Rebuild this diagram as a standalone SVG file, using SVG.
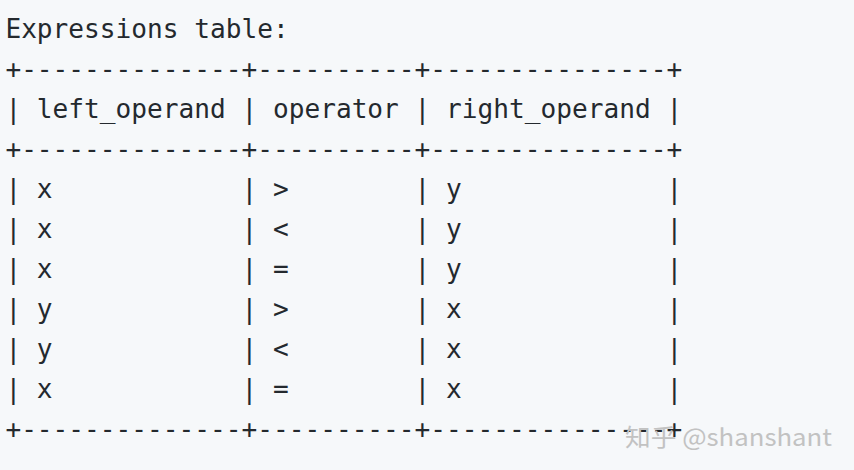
<svg xmlns="http://www.w3.org/2000/svg" width="854" height="470" viewBox="0 0 854 470">
<style>
.t{font-family:"DejaVu Sans Mono",monospace;font-size:26.15px;fill:#24292e;white-space:pre}
.w{font-family:"Noto Sans CJK SC","Liberation Sans",sans-serif;font-size:24px;fill:#c2c2c2}
</style>
<rect width="854" height="470" fill="#f6f8fa"/>
<g id="table">
<text class="t" x="5.4" y="38" xml:space="preserve">Expressions table:</text>
<text class="t" x="5.4" y="78" xml:space="preserve">+--------------+----------+---------------+</text>
<text class="t" x="5.4" y="118" xml:space="preserve">| left_operand | operator | right_operand |</text>
<text class="t" x="5.4" y="158" xml:space="preserve">+--------------+----------+---------------+</text>
<text class="t" x="5.4" y="198" xml:space="preserve">| x            | &gt;        | y             |</text>
<text class="t" x="5.4" y="238" xml:space="preserve">| x            | &lt;        | y             |</text>
<text class="t" x="5.4" y="278" xml:space="preserve">| x            | =        | y             |</text>
<text class="t" x="5.4" y="318" xml:space="preserve">| y            | &gt;        | x             |</text>
<text class="t" x="5.4" y="358" xml:space="preserve">| y            | &lt;        | x             |</text>
<text class="t" x="5.4" y="398" xml:space="preserve">| x            | =        | x             |</text>
<text class="t" x="5.4" y="438" xml:space="preserve">+--------------+----------+---------------+</text>
</g>
<g id="watermark">
<text class="w" x="625" y="446" textLength="207" lengthAdjust="spacingAndGlyphs">知乎 @shanshant</text>
</g>
</svg>
